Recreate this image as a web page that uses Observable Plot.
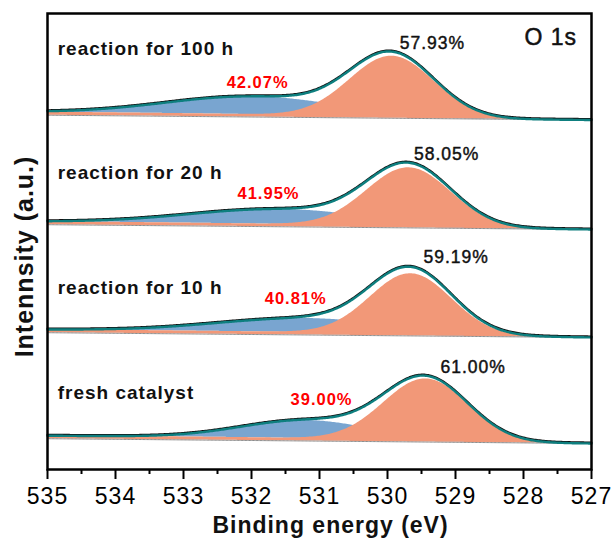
<!DOCTYPE html>
<html>
<head>
<meta charset="utf-8">
<script src="https://cdn.jsdelivr.net/npm/d3@7"></script>
<script src="https://cdn.jsdelivr.net/npm/@observablehq/plot@0.6"></script>
<style>
  html, body { margin: 0; padding: 0; background: #fff; }
  #chart { width: 616px; height: 542px; }
</style>
</head>
<body>
<div id="chart"></div>
<script>
// ---------- data (intensity in arbitrary units) ----------
const samples = ["reaction for 100 h", "reaction for 20 h", "reaction for 10 h", "fresh catalyst"];
const offsets = [349.5, 240, 132, 26];            // stacking offset of each spectrum at 527 eV
const tilt = 0.6;                                  // baseline slope (a.u. per eV)
const bgStep = [3, 3, 3, 3];                       // Shirley background step height
// lattice oxygen component (orange)
const latCenter = [529.93, 529.68, 529.65, 529.43];
const latHeight = [61, 59, 61, 62];
const latSigma  = [0.62, 0.62, 0.60, 0.62];
// oxygen-vacancy / adsorbed oxygen component (blue)
const ovCenter = [532.0, 531.6, 531.2, 531.2];
const ovHeight = [18, 15, 14, 18];
const ovSigma  = [1.25, 1.3, 1.3, 0.95];
const bluePct   = ["42.07%", "41.95%", "40.81%", "39.00%"];
const orangePct = ["57.93%", "58.05%", "59.19%", "61.00%"];
const majorTicks = [535, 534, 533, 532, 531, 530, 529, 528, 527];
const minorTicks = [534.5, 533.5, 532.5, 531.5, 530.5, 529.5, 528.5, 527.5];
const xTitle = "Binding energy (eV)";
const yTitle = "Intennsity (a.u.)";
const coreLevel = "O 1s";

// ---------- build fitted curves from the component parameters ----------
const energies = d3.range(0, 401).map(k => 527 + k * 0.02);
const gauss = (E, c, h, s) => h * Math.exp(-((E - c) ** 2) / (2 * s * s));
const rows = [];
samples.forEach((name, i) => {
  const comp = energies.map(E => ({
    E,
    ov: gauss(E, ovCenter[i], ovHeight[i], ovSigma[i]),
    lat: gauss(E, latCenter[i], latHeight[i], latSigma[i])
  }));
  let cum = 0;
  const cums = comp.map(d => (cum += d.ov + d.lat));
  comp.forEach((d, k) => {
    const base = offsets[i] + tilt * (d.E - 527);
    const bg = base + bgStep[i] * cums[k] / cum;
    rows.push({
      sample: name, E: d.E, base,
      blueLo: bg, blueHi: bg + d.ov,
      orangeLo: base, orangeHi: bg + d.lat,
      fit: bg + d.ov + d.lat
    });
  });
});

// annotation placement (data coordinates)
const panelLabelY = [421, 296.3, 182, 76.3];
const bluePctPos = [[531.91, 387], [531.75, 276], [531.35, 171], [530.97, 70]];
const orangePctPos = [[529.34, 426.3], [529.13, 315], [528.99, 212], [528.74, 102]];

const panelLabels = samples.map((s, i) => ({text: s, E: 534.85, y: panelLabelY[i]}));
const blueLabels = bluePct.map((t, i) => ({text: t, E: bluePctPos[i][0], y: bluePctPos[i][1]}));
const orangeLabels = orangePct.map((t, i) => ({text: t, E: orangePctPos[i][0], y: orangePctPos[i][1]}));

const chart = Plot.plot({
  width: 616,
  height: 542,
  marginTop: 13,
  marginRight: 25,
  marginBottom: 73,
  marginLeft: 47,
  style: {fontFamily: "'Liberation Sans', Arial, sans-serif", background: "#fff", letterSpacing: "1px", color: "#000"},
  x: {domain: [535, 527]},
  y: {domain: [0, 456], axis: null},
  marks: [
    Plot.areaY(rows, {x: "E", y1: "blueLo", y2: "blueHi", z: "sample", fill: "#79A5D0"}),
    Plot.areaY(rows, {x: "E", y1: "orangeLo", y2: "orangeHi", z: "sample", fill: "#F29878"}),
    Plot.line(rows, {x: "E", y: "base", z: "sample", stroke: "#8c8c8c", strokeWidth: 1}),
    Plot.line(rows, {x: "E", y: "fit", z: "sample", stroke: "#111", strokeWidth: 2, dy: -1}),
    Plot.line(rows, {x: "E", y: "fit", z: "sample", stroke: "#0E7F7F", strokeWidth: 2.4}),
    Plot.text(panelLabels, {x: "E", y: "y", text: "text", textAnchor: "start", fontSize: 19, fontWeight: "bold", fill: "#111"}),
    Plot.text(blueLabels, {x: "E", y: "y", text: "text", fontSize: 16.5, fontWeight: "bold", fill: "#ff0000"}),
    Plot.text(orangeLabels, {x: "E", y: "y", text: "text", fontSize: 17.5, fill: "#111", stroke: "#111", strokeWidth: 0.45}),
    Plot.text([coreLevel], {x: 527.60, y: 432, text: d => d, fontSize: 23, fill: "#111", stroke: "#111", strokeWidth: 0.5}),
    Plot.frame({stroke: "#000", strokeWidth: 2.5}),
    Plot.axisX({ticks: majorTicks, tickSize: 10, tickPadding: 8, fontSize: 23, strokeWidth: 2, label: null, tickFormat: d => String(d)}),
    Plot.axisX({ticks: minorTicks, tickSize: 5, text: null, strokeWidth: 2, label: null}),
    Plot.text([xTitle], {frameAnchor: "bottom", lineAnchor: "middle", textAnchor: "middle", dx: 11, dy: 56, text: d => d, fontSize: 23, fontWeight: "bold", fill: "#111"}),
    Plot.text([yTitle], {frameAnchor: "left", lineAnchor: "middle", textAnchor: "middle", dx: -23, dy: 15, rotate: -90, text: d => d, fontSize: 25, fontWeight: "bold", fill: "#111"})
  ]
});
document.getElementById("chart").appendChild(chart);
</script>
</body>
</html>
